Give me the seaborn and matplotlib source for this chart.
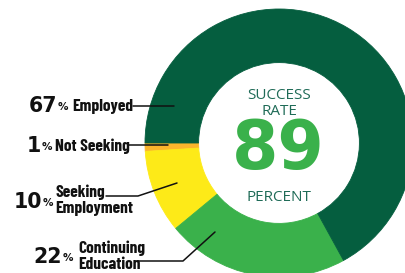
import matplotlib.pyplot as plt
import seaborn as sns
from matplotlib.lines import Line2D

# === Data ===
categories = ["Not Seeking", "Seeking Employment", "Continuing Education", "Employed"]
shares = [1, 10, 22, 67]
label_lines = [["Not Seeking"], ["Seeking", "Employment"], ["Continuing", "Education"], ["Employed"]]
success_rate = 89
colors = ["#FBB52C", "#FDEA18", "#3AB14B", "#055E3F"]

# === Layout (pixels in the 405x273 canvas) ===
W, H = 405, 273
cx, cy, r = 279, 143, 134
layout = {
    "Employed": dict(num_x=57, num_y=112, lab_x=72, lab_y=[111], line=[(133, 106), (174, 106)]),
    "Not Seeking": dict(num_x=41, num_y=152, lab_x=55, lab_y=[151], line=[(128, 145), (168, 145)]),
    "Seeking Employment": dict(num_x=42, num_y=208, lab_x=55, lab_y=[197, 213],
                               line=[(106, 196), (138, 196), (177, 183)]),
    "Continuing Education": dict(num_x=62, num_y=263, lab_x=78, lab_y=[253, 269],
                                 line=[(137, 261), (183, 261), (215, 232)]),
}


def fx(x):
    return x / W


def fy(y):
    return 1 - y / H


sns.set_theme(style="white")
narrow = ["Barlow Condensed", "DejaVu Sans"]

fig = plt.figure(figsize=(W / 100, H / 100), dpi=100)
fig.patch.set_facecolor("white")

ax = fig.add_axes([(cx - r) / W, (H - cy - r) / H, 2 * r / W, 2 * r / H])
wedges, _ = ax.pie(shares, colors=colors, startangle=180, counterclock=True,
                   wedgeprops=dict(width=0.4, linewidth=0.6))
for w in wedges:
    w.set_edgecolor(w.get_facecolor())
ax.set_xlim(-1, 1)
ax.set_ylim(-1, 1)
ax.set_axis_off()

# centre text
centre_col = "#1F6B57"
for txt, yb in [("SUCCESS", 99), ("RATE", 115), ("PERCENT", 201)]:
    fig.text(fx(cx), fy(yb), txt, ha="center", va="baseline", fontsize=11,
             family="Open Sans", color=centre_col)
fig.text(fx(cx - 1), fy(169), str(success_rate), ha="center", va="baseline", fontsize=48,
         family="DejaVu Sans", weight="bold", color="#3AB14B")

# labels and leader lines
for cat, val, lines in zip(categories, shares, label_lines):
    lay = layout[cat]
    fig.text(fx(lay["num_x"]), fy(lay["num_y"]), str(val), ha="right", va="baseline",
             fontsize=14.8, family="DejaVu Sans", weight="bold", color="#111111")
    fig.text(fx(lay["num_x"] + 1), fy(lay["num_y"] - 2), "%", ha="left", va="baseline",
             fontsize=7.5, family="DejaVu Sans", weight="bold", color="#111111")
    for txt, yb in zip(lines, lay["lab_y"]):
        fig.text(fx(lay["lab_x"]), fy(yb), txt, ha="left", va="baseline",
                 fontsize=12.5, family=narrow, weight="bold", color="#111111")
    xs = [fx(p[0]) for p in lay["line"]]
    ys = [fy(p[1]) for p in lay["line"]]
    fig.add_artist(Line2D(xs, ys, transform=fig.transFigure, color="#111111", lw=1.1))

fig.savefig("out.png", dpi=100)
